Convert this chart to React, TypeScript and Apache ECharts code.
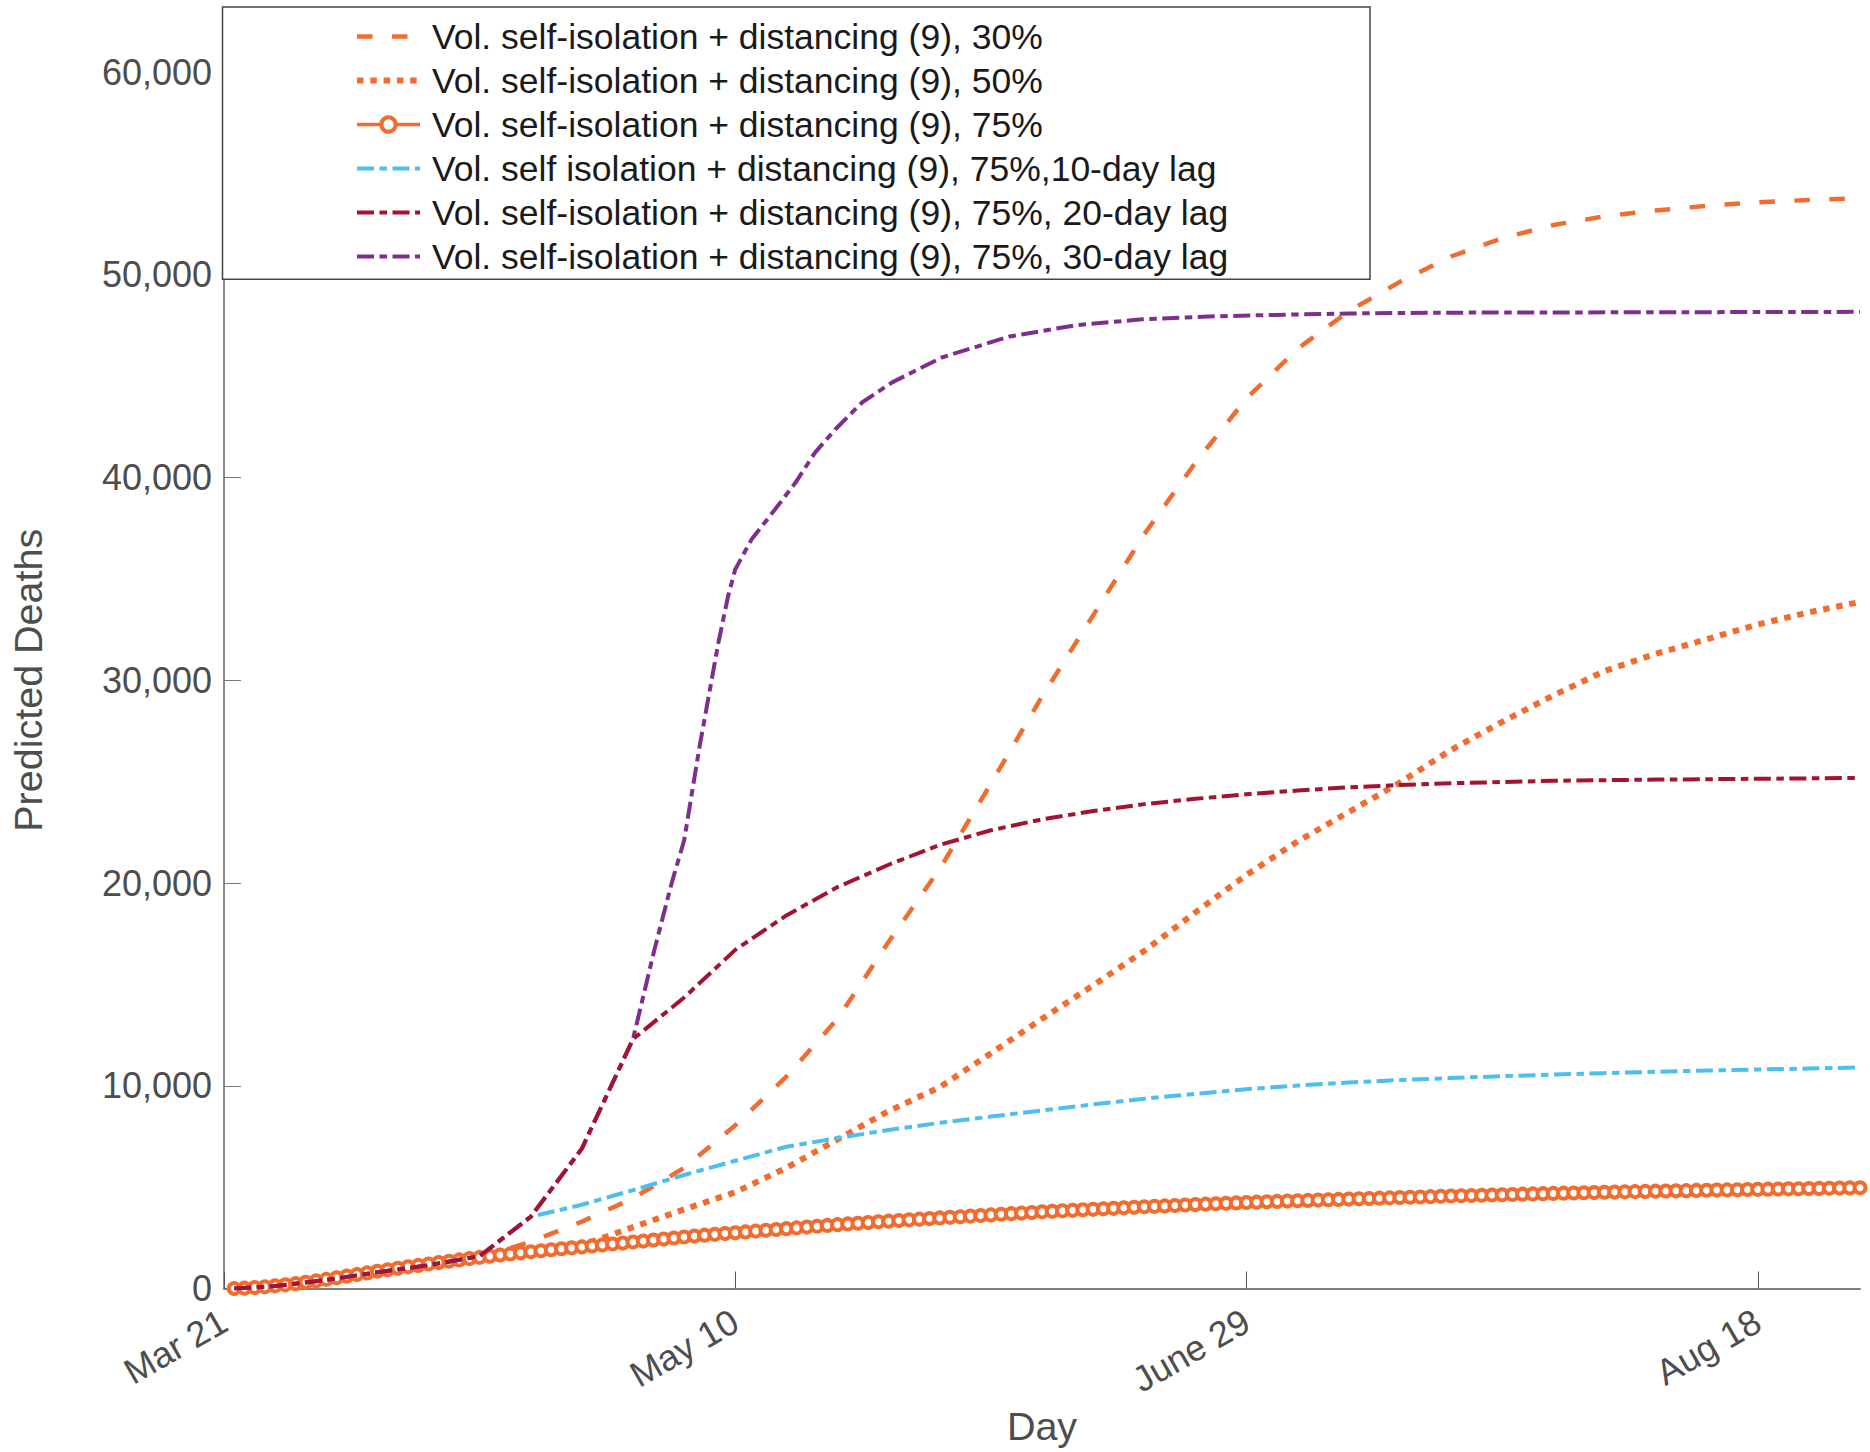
import React, { useEffect, useRef } from 'react';
import * as echarts from 'echarts';

const FONT = "'Liberation Sans', Arial, Helvetica, sans-serif";

const seriesNames = [
  'Vol. self-isolation + distancing (9), 30%',
  'Vol. self-isolation + distancing (9), 50%',
  'Vol. self-isolation + distancing (9), 75%',
  'Vol. self isolation + distancing (9), 75%,10-day lag',
  'Vol. self-isolation + distancing (9), 75%, 20-day lag',
  'Vol. self-isolation + distancing (9), 75%, 30-day lag',
];

const xTickValues = [0, 50, 100, 150];
const xTickLabels = ['Mar 21', 'May 10', 'June 29', 'Aug 18'];
const yTickValues = [0, 10000, 20000, 30000, 40000, 50000, 60000];

// [day, deaths]
const vol30: [number, number][] = [
  [1, 0], [5, 130], [10, 450], [15, 850], [20, 1210], [25, 1535], [30, 2300], [35, 3300],
  [40, 4450], [45, 5950], [50, 8050], [55, 10450], [60, 13300], [65, 17100], [70, 20700],
  [75, 24900], [80, 29200], [85, 33200], [90, 37200], [95, 40730], [100, 43900], [105, 46350],
  [110, 48200], [115, 49650], [120, 50900], [125, 51800], [130, 52450], [135, 52880],
  [140, 53170], [145, 53400], [150, 53570], [155, 53690], [160, 53770],
];

const vol50: [number, number][] = [
  [1, 0], [5, 130], [10, 450], [15, 850], [20, 1210], [25, 1535], [30, 1830], [35, 2130],
  [40, 3030], [45, 3900], [50, 4750], [55, 5950], [60, 7350], [65, 8750], [70, 9930],
  [75, 11600], [80, 13300], [85, 14950], [90, 16650], [95, 18550], [100, 20400], [105, 22050],
  [110, 23500], [115, 24950], [120, 26560], [125, 27950], [130, 29250], [135, 30450],
  [140, 31300], [145, 32020], [150, 32750], [155, 33350], [160, 33860],
];

// daily values, day 1 .. 160
const vol75FirstDay = 1;
const vol75: number[] = [
  0, 15, 45, 85, 130, 180, 240, 305, 375, 450,
  530, 610, 690, 770, 850, 925, 1000, 1070, 1140, 1210,
  1280, 1345, 1410, 1475, 1535, 1595, 1650, 1705, 1760, 1810,
  1860, 1910, 1960, 2005, 2050, 2100, 2145, 2195, 2240, 2290,
  2340, 2390, 2440, 2490, 2540, 2585, 2630, 2670, 2710, 2750,
  2790, 2830, 2870, 2910, 2950, 2990, 3030, 3070, 3110, 3150,
  3185, 3220, 3255, 3290, 3320, 3350, 3385, 3420, 3450, 3480,
  3510, 3540, 3570, 3600, 3630, 3660, 3690, 3720, 3750, 3780,
  3805, 3830, 3855, 3880, 3905, 3930, 3955, 3980, 4005, 4030,
  4052, 4074, 4096, 4118, 4140, 4160, 4180, 4200, 4220, 4240,
  4258, 4276, 4294, 4312, 4330, 4346, 4362, 4378, 4394, 4410,
  4425, 4440, 4455, 4470, 4485, 4500, 4515, 4530, 4545, 4560,
  4573, 4586, 4599, 4612, 4625, 4638, 4651, 4664, 4677, 4690,
  4701, 4712, 4723, 4734, 4745, 4756, 4767, 4778, 4789, 4800,
  4809, 4818, 4827, 4836, 4845, 4854, 4863, 4872, 4881, 4890,
  4898, 4906, 4914, 4922, 4930, 4938, 4946, 4954, 4962, 4970,
];

const lag10: [number, number][] = [
  [1, 0], [5, 120], [10, 420], [15, 800], [20, 1150], [25, 1600], [30, 3540], [35, 4130],
  [40, 4850], [45, 5600], [50, 6300], [55, 6990], [60, 7420], [65, 7820], [70, 8170],
  [75, 8480], [80, 8780], [85, 9080], [90, 9360], [95, 9600], [100, 9830], [105, 10010],
  [110, 10160], [115, 10280], [120, 10380], [125, 10470], [130, 10550], [135, 10620],
  [140, 10690], [145, 10750], [150, 10800], [155, 10850], [160, 10900],
];

const lag20: [number, number][] = [
  [1, 0], [5, 120], [10, 420], [15, 800], [20, 1150], [25, 1600], [30, 3540], [35, 6900],
  [40, 12300], [45, 14350], [50, 16700], [55, 18400], [60, 19800], [65, 20900], [70, 21880],
  [75, 22600], [80, 23140], [85, 23550], [90, 23890], [95, 24150], [100, 24380], [105, 24560],
  [110, 24720], [115, 24830], [120, 24920], [130, 25040], [140, 25100], [150, 25140],
  [160, 25180],
];

const lag30: [number, number][] = [
  [1, 0], [5, 120], [10, 420], [15, 800], [20, 1150], [25, 1600], [30, 3540], [35, 6900],
  [40, 12300], [42.1, 16720], [43.8, 20030], [45, 22100], [46.5, 26700], [47.4, 29200],
  [48.35, 31850], [49.3, 34150], [50, 35470], [51.6, 36950], [53.9, 38430], [55.9, 39750],
  [57.8, 41230], [59.8, 42380], [62.4, 43700], [65.3, 44680], [70.2, 45920], [76.8, 46950],
  [83.3, 47510], [89.8, 47800], [96.3, 47940], [102.8, 48020], [110, 48090], [119.2, 48130],
  [140, 48150], [160, 48170],
];

const ORANGE = '#F26B2F';
const CYAN = '#4DBEEE';
const RED = '#A2142F';
const PURPLE = '#7E2F8E';

const DASH: number[] = [15.5, 19.5];
const DOT: number[] = [6.5, 6.8];
const DASHDOT: number[] = [17, 5.5, 7.5, 5.5];

export default function App() {
  const ref = useRef<HTMLDivElement>(null);

  useEffect(() => {
    if (!ref.current) return;
    const chart = echarts.init(ref.current, undefined, { renderer: 'svg' });

    const lineSeries = (
      name: string,
      data: [number, number][],
      color: string,
      width: number,
      type: number[],
      z: number,
    ) => ({
      type: 'line',
      name,
      data,
      symbol: 'none',
      showSymbol: false,
      itemStyle: { color },
      lineStyle: { color, width, type, cap: 'butt' },
      z,
    });

    const legendWidths = [4.5, 6, 3.5, 4, 4, 4];

    chart.setOption({
      animation: false,
      backgroundColor: '#ffffff',
      grid: { left: 222.5, right: 10, top: 72, bottom: 163.5, containLabel: false },
      xAxis: {
        type: 'value',
        min: 0,
        max: 160,
        interval: 50,
        name: 'Day',
        nameLocation: 'middle',
        nameGap: 117,
        nameTextStyle: { fontSize: 39.5, color: '#4d4d4d', fontFamily: FONT },
        axisLine: { show: true, onZero: false, lineStyle: { color: '#808080', width: 2 } },
        axisTick: {
          show: true,
          inside: true,
          length: 17,
          customValues: xTickValues,
          lineStyle: { color: '#555555', width: 1 },
        },
        axisLabel: {
          customValues: xTickValues,
          formatter: (v: number) => {
            const i = xTickValues.indexOf(v);
            return i >= 0 ? xTickLabels[i] : '';
          },
          rotate: 30,
          margin: 30,
          fontSize: 36,
          color: '#4d4d4d',
          fontFamily: FONT,
        },
        splitLine: { show: false },
      },
      yAxis: {
        type: 'value',
        min: 0,
        max: 60000,
        interval: 10000,
        name: 'Predicted Deaths',
        nameLocation: 'middle',
        nameGap: 176,
        nameTextStyle: { fontSize: 39.5, color: '#4d4d4d', fontFamily: FONT },
        axisLine: { show: true, onZero: false, lineStyle: { color: '#666666', width: 1.5 } },
        axisTick: {
          show: true,
          inside: true,
          length: 17,
          customValues: yTickValues,
          lineStyle: { color: '#777777', width: 1 },
        },
        axisLabel: {
          customValues: yTickValues,
          formatter: (v: number) => v.toLocaleString('en-US'),
          margin: 12,
          fontSize: 36,
          color: '#4d4d4d',
          fontFamily: FONT,
        },
        splitLine: { show: false },
      },
      graphic: [
        {
          type: 'rect',
          z: 6,
          shape: { x: 222.5, y: 7, width: 1147.5, height: 272.3 },
          style: { fill: '#ffffff', stroke: '#444444', lineWidth: 1.5 },
        },
      ],
      legend: {
        orient: 'vertical',
        left: 354,
        top: 14.5,
        z: 8,
        itemWidth: 63,
        itemHeight: 18,
        itemGap: 0,
        padding: 0,
        textStyle: { fontSize: 35.5, lineHeight: 44, color: '#1a1a1a', fontFamily: FONT, padding: [0, 0, 0, 7] },
        data: seriesNames.map((n, i) =>
          i === 2
            ? {
                name: n,
                lineStyle: { width: legendWidths[i] },
                itemStyle: { color: '#ffffff', borderColor: ORANGE, borderWidth: 4 },
              }
            : { name: n, itemStyle: { opacity: 0, borderWidth: 0 }, lineStyle: { width: legendWidths[i] } },
        ),
      },
      series: [
        lineSeries(seriesNames[0], vol30, ORANGE, 4.5, DASH, 2),
        lineSeries(seriesNames[1], vol50, ORANGE, 6, DOT, 2),
        {
          type: 'line',
          name: seriesNames[2],
          data: vol75.map((v, i) => [vol75FirstDay + i, v]),
          symbol: 'circle',
          symbolSize: 11,
          showSymbol: true,
          showAllSymbol: true,
          itemStyle: { color: '#ffffff', borderColor: ORANGE, borderWidth: 4 },
          lineStyle: { color: ORANGE, width: 3.5 },
          z: 2,
        },
        lineSeries(seriesNames[3], lag10, CYAN, 4, DASHDOT, 3),
        lineSeries(seriesNames[4], lag20, RED, 4, DASHDOT, 4),
        lineSeries(seriesNames[5], lag30, PURPLE, 4, DASHDOT, 3),
      ],
    });

    return () => chart.dispose();
  }, []);

  return (
    <div
      ref={ref}
      style={{ position: 'fixed', left: 0, top: 0, width: 1870, height: 1452, background: '#fff' }}
    />
  );
}
